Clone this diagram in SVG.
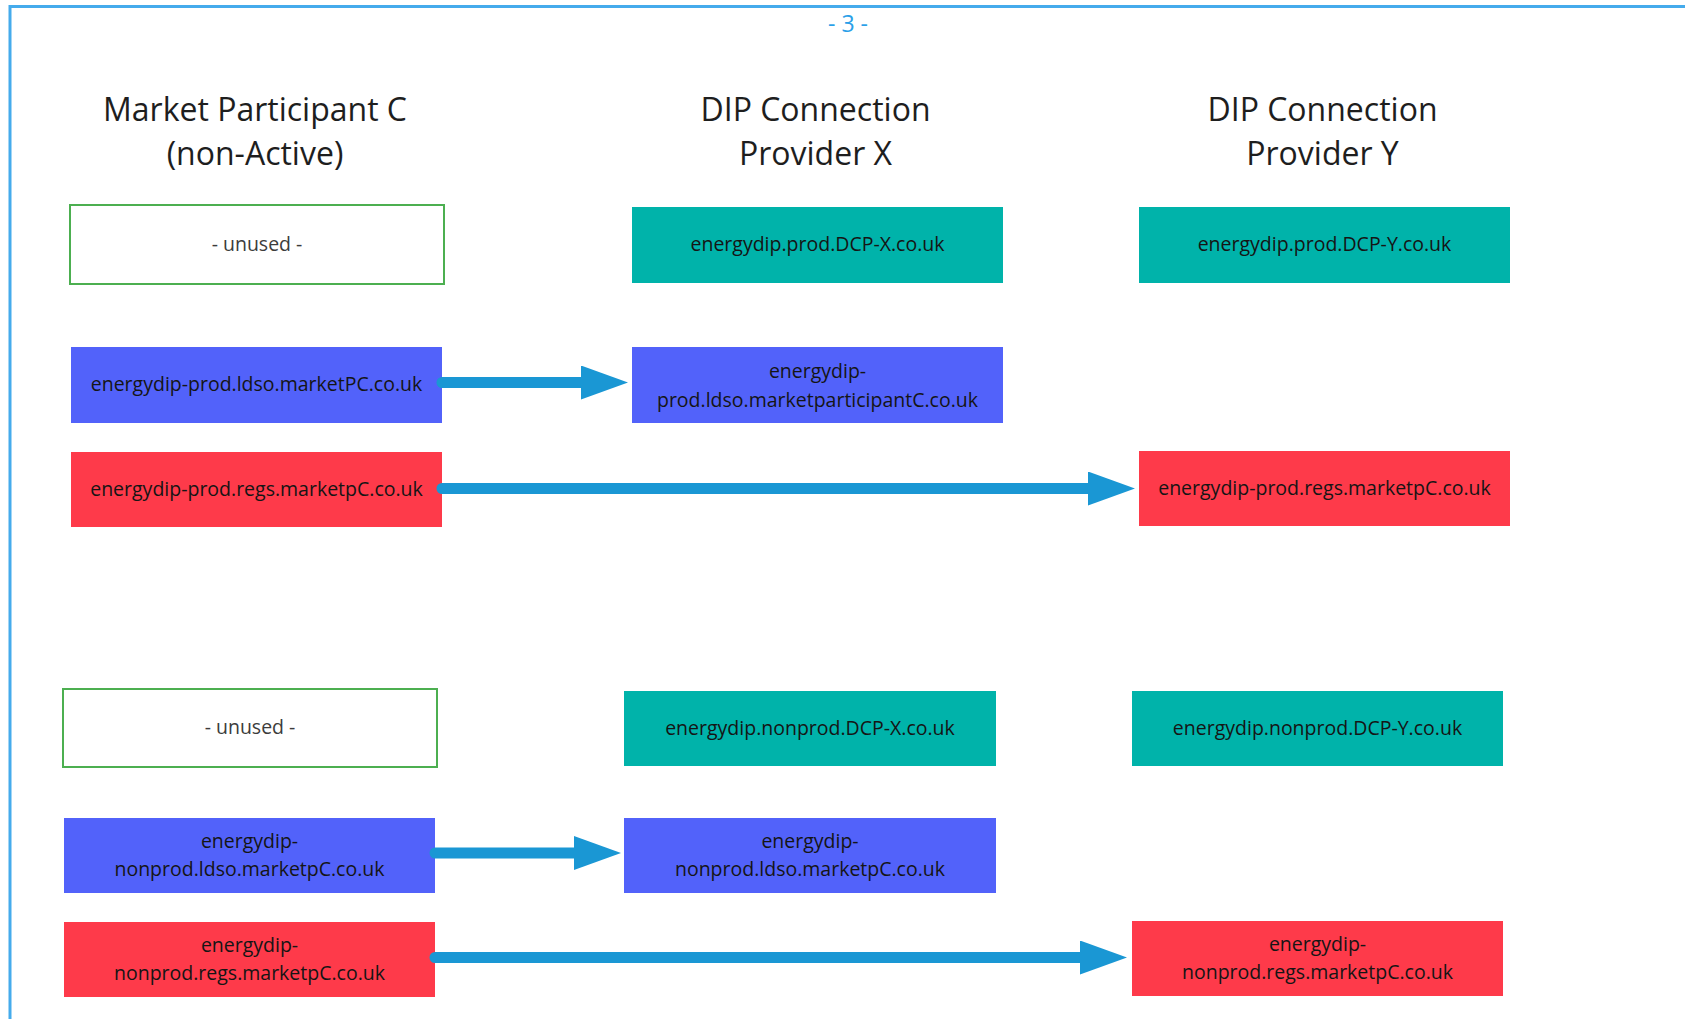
<svg xmlns="http://www.w3.org/2000/svg" width="1685" height="1019" viewBox="0 0 1685 1019">
<style>
text{font-family:"Open Sans","Noto Sans","Liberation Sans",sans-serif;text-anchor:middle}
.hdr{font-size:32px;fill:#1e1e1e}
.lbl{font-size:19.5px;fill:#151515}
.unused-t{font-size:19.5px;fill:#3c3c3c}
.unused{fill:#ffffff;stroke:#4caf50;stroke-width:2}
.teal{fill:#00b3aa}
.blue{fill:#5262fa}
.red{fill:#fe3a4a}
.conn{fill:none;stroke:#1a97d4;stroke-width:11;stroke-linecap:round}
</style>
<defs>
<marker id="head" viewBox="0 0 47 34" markerWidth="47" markerHeight="34" refX="0" refY="17" orient="auto" markerUnits="userSpaceOnUse">
<path d="M0,0 L47,17 L0,34 Z" fill="#1a97d4"/>
</marker>
</defs>
<rect width="1685" height="1019" fill="#ffffff"/>
<path d="M10,1019 V6.5 H1685" fill="none" stroke="#45abec" stroke-width="3"/>
<text x="848" y="32" style="font-size:23px;fill:#2b9fe8">- 3 -</text>

<g id="hdr-mp"><text class="hdr" x="255" y="121">Market Participant C</text><text class="hdr" x="255" y="165">(non-Active)</text></g>
<g id="hdr-x"><text class="hdr" x="815.5" y="121">DIP Connection</text><text class="hdr" x="815.5" y="165">Provider X</text></g>
<g id="hdr-y"><text class="hdr" x="1322.5" y="121">DIP Connection</text><text class="hdr" x="1322.5" y="165">Provider Y</text></g>

<g id="unused-prod"><rect class="unused" x="70" y="205" width="374" height="79"/><text class="unused-t" x="257" y="251">- unused -</text></g>
<g id="dcpx-prod"><rect class="teal" x="632" y="207" width="371" height="76"/><text class="lbl" x="817.5" y="251">energydip.prod.DCP-X.co.uk</text></g>
<g id="dcpy-prod"><rect class="teal" x="1139" y="207" width="371" height="76"/><text class="lbl" x="1324.5" y="251">energydip.prod.DCP-Y.co.uk</text></g>
<g id="mp-ldso-prod"><rect class="blue" x="71" y="347" width="371" height="76"/><text class="lbl" x="256.5" y="391">energydip-prod.ldso.marketPC.co.uk</text></g>
<g id="x-ldso-prod"><rect class="blue" x="632" y="347" width="371" height="76"/><text class="lbl" x="817.5" y="378">energydip-</text><text class="lbl" x="817.5" y="407">prod.ldso.marketparticipantC.co.uk</text></g>
<g id="mp-regs-prod"><rect class="red" x="71" y="452" width="371" height="75"/><text class="lbl" x="256.5" y="496">energydip-prod.regs.marketpC.co.uk</text></g>
<g id="y-regs-prod"><rect class="red" x="1139" y="451" width="371" height="75"/><text class="lbl" x="1324.5" y="495">energydip-prod.regs.marketpC.co.uk</text></g>

<g id="unused-nonprod"><rect class="unused" x="63" y="689" width="374" height="78"/><text class="unused-t" x="250" y="734">- unused -</text></g>
<g id="dcpx-nonprod"><rect class="teal" x="624" y="691" width="372" height="75"/><text class="lbl" x="810" y="735">energydip.nonprod.DCP-X.co.uk</text></g>
<g id="dcpy-nonprod"><rect class="teal" x="1132" y="691" width="371" height="75"/><text class="lbl" x="1317.5" y="735">energydip.nonprod.DCP-Y.co.uk</text></g>
<g id="mp-ldso-nonprod"><rect class="blue" x="64" y="818" width="371" height="75"/><text class="lbl" x="249.5" y="848">energydip-</text><text class="lbl" x="249.5" y="876">nonprod.ldso.marketpC.co.uk</text></g>
<g id="x-ldso-nonprod"><rect class="blue" x="624" y="818" width="372" height="75"/><text class="lbl" x="810" y="848">energydip-</text><text class="lbl" x="810" y="876">nonprod.ldso.marketpC.co.uk</text></g>
<g id="mp-regs-nonprod"><rect class="red" x="64" y="922" width="371" height="75"/><text class="lbl" x="249.5" y="952">energydip-</text><text class="lbl" x="249.5" y="980">nonprod.regs.marketpC.co.uk</text></g>
<g id="y-regs-nonprod"><rect class="red" x="1132" y="921" width="371" height="75"/><text class="lbl" x="1317.5" y="951">energydip-</text><text class="lbl" x="1317.5" y="979">nonprod.regs.marketpC.co.uk</text></g>

<g id="connectors">
<path class="conn" d="M442,382.5 H581" marker-end="url(#head)"/>
<path class="conn" d="M442,488.5 H1088" marker-end="url(#head)"/>
<path class="conn" d="M435,853 H574" marker-end="url(#head)"/>
<path class="conn" d="M435,957.5 H1080" marker-end="url(#head)"/>
</g>
</svg>
